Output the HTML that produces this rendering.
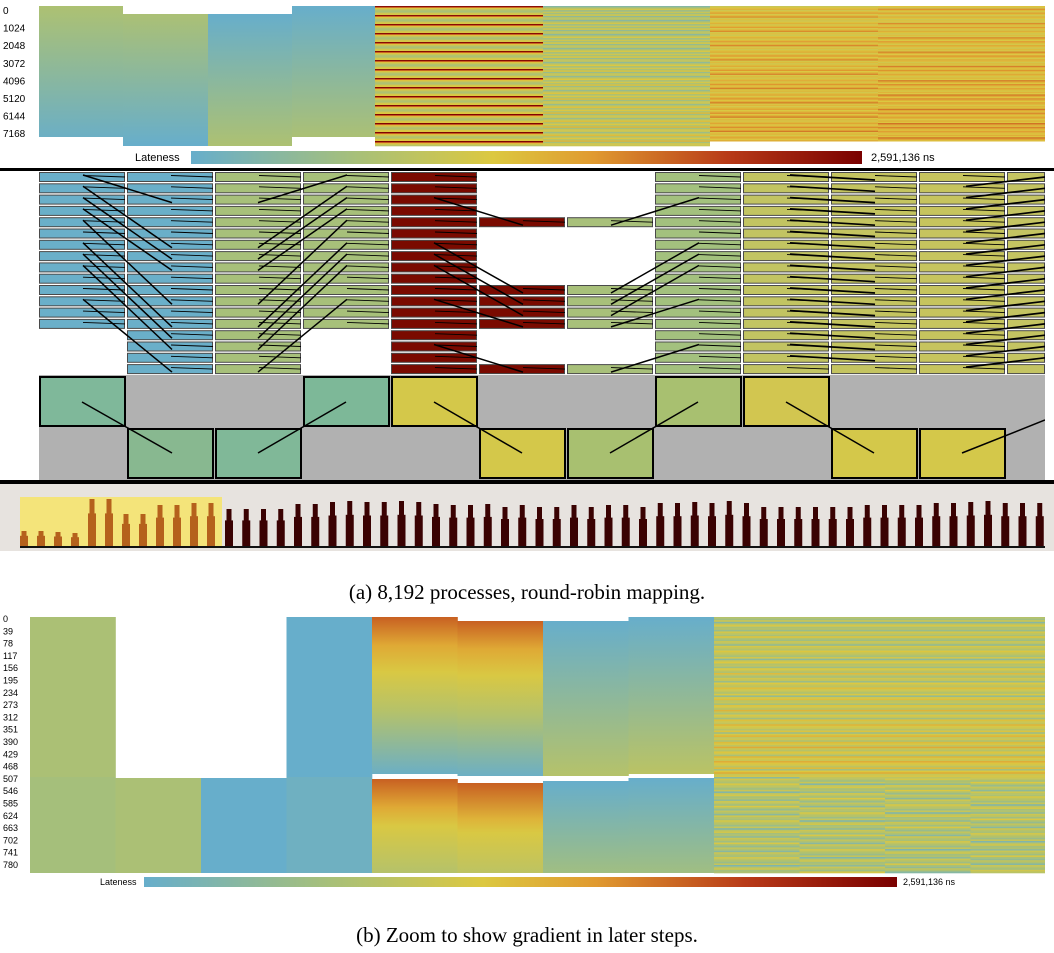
<!DOCTYPE html>
<html><head><meta charset="utf-8">
<style>
html,body{margin:0;padding:0;background:#fff;width:1054px;height:953px;overflow:hidden}
svg{display:block}
text{font-family:"Liberation Sans",sans-serif}
.cap{font-family:"Liberation Serif",serif;font-size:21px}
</style></head>
<body>
<svg id="s" width="1054" height="953" viewBox="0 0 1054 953" xmlns="http://www.w3.org/2000/svg">
<defs>
<linearGradient id="cmap" x1="0" x2="1" y1="0" y2="0">
<stop offset="0" stop-color="#67aecb"/><stop offset="0.25" stop-color="#a8c078"/><stop offset="0.45" stop-color="#dcc840"/><stop offset="0.6" stop-color="#e09a30"/><stop offset="0.8" stop-color="#b83a18"/><stop offset="1" stop-color="#7a0000"/>
</linearGradient>
<clipPath id="midclip"><rect x="0" y="168" width="1045" height="320"/></clipPath>
</defs>
<g id="topHeat"></g>
<g id="midRows" clip-path="url(#midclip)"></g>
<g id="midLines"></g>
<g id="bars"></g>
<g id="botHeat"></g>
<text class="cap" x="527" y="599" text-anchor="middle">(a) 8,192 processes, round-robin mapping.</text>
<text class="cap" x="527" y="942" text-anchor="middle">(b) Zoom to show gradient in later steps.</text>
</svg>
<script>
const NS='http://www.w3.org/2000/svg';
// ---- data arrays ----
const topLabels=['0','1024','2048','3072','4096','5120','6144','7168'];
const botLabels=['0','39','78','117','156','195','234','273','312','351','390','429','468','507','546','585','624','663','702','741','780'];
const stripeA4=[0.95,0.7,0.45,0.35,0.28,0.25,0.3,0.4,0.42];
const stripeA5=[0.12,0.3,0.4,0.18,0.36,0.22,0.42,0.15,0.32,0.28];
const stripeA6=[0.38,0.46,0.52,0.4,0.48,0.58,0.42,0.5,0.62,0.4,0.47];
const stripeB=[0.3,0.22,0.38,0.12,0.34,0.42,0.26,0.3,0.18,0.4,0.33,0.24,0.45,0.28,0.2,0.36,0.3,0.15,0.4,0.32,0.27,0.43,0.35];
const rowCounts=[[0,13],[0,17],[0,17],[0,13],[0,17],null,null,[0,17],[0,17],[0,17],[0,17],[0,17]];
const sparseRows=[4,10,11,12,13,17];
const colFill=['#6aafc9','#6aafc9','#a7c07a','#a7c07a','#7a0a00','#7a0a00','#a8c07a','#a3c17e','#c2c462','#c4c460','#c6c45e','#c4c462'];
const linkSrc01=[0,1,2,3,4,6,7,8,11];
const linkDst01=[2,6,7,8,11,13,14,15,17];
const linkSrc45=[2,6,7,8,11,15];
const linkDst45=[4,10,11,12,13,17];
const upperBoxes=[0,3,4,7,8];
const lowerBoxes=[1,2,5,6,9,10];
const boxColor=['#7fb89a','#88b890','#80b898','#7db898','#d4c84a','#d4c84a','#a8c070','#a8c070','#d2c650','#d4c84a','#d4c84a'];
const orangeH=[16,16,15,14,48,48,33,33,42,42,44,44];
const darkH=[38,38,38,38,43,43,45,46,45,45,46,45,43,42,42,43,40,42,40,40,42,40,42,42,40,44,44,45,44,46,44,40,40,40,40,40,40,42,42,42,42,44,44,45,46,44,44,44];

const stops=[[0,[103,174,203]],[0.25,[168,192,120]],[0.45,[220,200,64]],[0.6,[224,154,48]],[0.8,[184,58,24]],[1,[122,0,0]]];
function cm(v){v=Math.max(0,Math.min(1,v));for(let i=1;i<stops.length;i++){if(v<=stops[i][0]){const a=stops[i-1],b=stops[i],t=(v-a[0])/(b[0]-a[0]);return 'rgb('+a[1].map((c,k)=>Math.round(c+(b[1][k]-c)*t)).join(',')+')';}}return 'rgb(122,0,0)';}
function el(p,tag,attrs){const e=document.createElementNS(NS,tag);for(const k in attrs)e.setAttribute(k,attrs[k]);p.appendChild(e);return e;}
function grad(id,list){const d=document.querySelector('defs');const g=el(d,'linearGradient',{id:id,x1:0,x2:0,y1:0,y2:1});list.forEach(s=>el(g,'stop',{offset:s[0],'stop-color':cm(s[1])}));return 'url(#'+id+')';}

// ---- heatmap a ----
const T=document.getElementById('topHeat');
topLabels.forEach((l,i)=>{const t=el(T,'text',{x:3,y:14+i*17.6,'font-size':10});t.textContent=l;

});
const gA=[[39,123,6,137,grad('g0',[[0,0.27],[1,0.02]])],[123,208,14,146,grad('g1',[[0,0.26],[1,0.0]])],[208,292,14,146,grad('g2',[[0,0.0],[1,0.27]])],[292,375,6,137,grad('g3',[[0,0.0],[1,0.26]])]];
gA.forEach(c=>{const r=el(T,'rect',{x:c[0],y:c[2],width:c[1]-c[0],height:c[3]-c[2],fill:c[4]});

});
function stripes(g,x0,x1,y0,y1,arr,h,bias){let i=0;for(let y=y0;y<y1;y+=h,i++){el(g,'rect',{x:x0,y:y,width:x1-x0,height:h+0.3,fill:cm(arr[i%arr.length]+bias*(y-y0)/(y1-y0))});}}
stripes(T,375,543,6,146,stripeA4,1,0.04);
stripes(T,543,710,6,146,stripeA5,1.4,0.1);
stripes(T,710,878,6,140,stripeA6,1.3,0.05);
stripes(T,878,1045,6,140,stripeA6.slice().reverse(),1.3,0.07);
const lt=el(T,'text',{x:135,y:161,'font-size':11});lt.textContent='Lateness';

const lb=el(T,'rect',{x:191,y:151,width:671,height:13,fill:'url(#cmap)'});

const lm=el(T,'text',{x:871,y:161,'font-size':11});lm.textContent='2,591,136 ns';

el(T,'rect',{x:0,y:168,width:1054,height:3,fill:'#000'});

// ---- middle rows ----
const M=document.getElementById('midRows');
const colX=i=>39+i*88, rowY=r=>172+r*11.3;
const ln=(x1,y1,x2,y2,w)=>{const l=el(M,'line',{x1:x1,y1:y1,x2:x2,y2:y2,stroke:'#000','stroke-width':w||1.5});};
for(let c=0;c<12;c++){
  const rows=rowCounts[c]?Array.from({length:rowCounts[c][1]-rowCounts[c][0]+1},(_,k)=>k):sparseRows;
  const w=Math.min(86,1045-colX(c));
  rows.forEach(r=>{const b=el(M,'rect',{x:colX(c)+0.5,y:rowY(r)+0.5,width:w-1,height:9,fill:colFill[c],stroke:'#4a4a4a','stroke-width':1});
  
  ln(colX(c)+44,rowY(r)+3.5,colX(c)+86,rowY(r)+5,0.9);});
}
linkSrc01.forEach((s,i)=>{ln(colX(0)+44,rowY(s)+3,colX(1)+45,rowY(linkDst01[i])+8);ln(colX(2)+43,rowY(linkDst01[i])+8,colX(3)+44,rowY(s)+3);});
linkSrc45.forEach((s,i)=>{ln(colX(4)+43,rowY(s)+3,colX(5)+44,rowY(linkDst45[i])+8);ln(colX(6)+44,rowY(linkDst45[i])+8,colX(7)+44,rowY(s)+3);});
for(let r=0;r<17;r++){ln(colX(8)+47,rowY(r)+3,colX(9)+44,rowY(r)+8,1.7);ln(colX(10)+47,rowY(r+1)+3,colX(11)+38,rowY(r)+5,1.7);}
// boxes
const bg=el(M,'rect',{x:39,y:375,width:1006,height:105,fill:'#b1b1b1'});

function box(c,up){const b=el(M,'rect',{x:colX(c)+1,y:up?377:429,width:85,height:49,fill:boxColor[c],stroke:'#000','stroke-width':2});
}
upperBoxes.forEach(c=>box(c,true));lowerBoxes.forEach(c=>box(c,false));
ln(82,402,172,453);ln(258,453,346,402);ln(434,402,522,453);ln(610,453,698,402);ln(786,402,874,453);ln(962,453,1045,420);
el(document.getElementById('midLines'),'rect',{x:0,y:480,width:1054,height:4,fill:'#000'});

// ---- bar chart ----
const B=document.getElementById('bars');
el(B,'rect',{x:0,y:484,width:1054,height:67,fill:'#e7e3df'});
const hl=el(B,'rect',{x:20,y:497,width:202,height:50,fill:'#f4e47a'});

const base=547;
function bar(x,h,col){const r=el(B,'rect',{x:x,y:base-h*0.7,width:8,height:h*0.7,fill:col});

el(B,'rect',{x:x+1.5,y:base-h,width:5,height:h,fill:col});}
orangeH.forEach((h,i)=>bar(20+i*17,h,'#b5611c'));
darkH.forEach((h,i)=>bar(225+i*17.25,h,'#3a0202'));
el(B,'rect',{x:20,y:546,width:1025,height:2,fill:'#111'});

// ---- heatmap b ----
const H=document.getElementById('botHeat');
botLabels.forEach((l,i)=>{const t=el(H,'text',{x:3,y:622+i*12.3,'font-size':9});t.textContent=l;
});
const cx=i=>30+i*85.5;
function hc(i,y0,y1,fill){const r=el(H,'rect',{x:cx(i),y:y0,width:85.8,height:y1-y0,fill:fill});
}
hc(0,617,777,cm(0.26));hc(0,777,873,cm(0.24));hc(1,778,873,cm(0.26));hc(2,778,873,cm(0.0));
hc(3,617,777,cm(0.0));hc(3,777,873,cm(0.03));
const gRed=[[0,0.72],[0.18,0.55],[0.35,0.44],[0.6,0.3],[1,0.02]];
hc(4,617,774,grad('b4a',gRed));hc(4,779,873,grad('b4b',[[0,0.72],[0.3,0.55],[0.5,0.44],[1,0.3]]));
hc(5,621,776,grad('b5a',gRed));hc(5,783,873,grad('b5b',[[0,0.72],[0.4,0.52],[0.55,0.44],[1,0.33]]));
hc(6,621,776,grad('b6a',[[0,0.0],[1,0.3]]));hc(6,781,873,grad('b6b',[[0,0.0],[1,0.22]]));
hc(7,617,774,grad('b7a',[[0,0.0],[1,0.32]]));hc(7,778,873,grad('b7b',[[0,0.0],[1,0.22]]));
for(let c=8;c<12;c++){const x0=cx(c),x1=c==11?1045:cx(c+1);
 stripes(H,x0,x1,617,777,stripeB.slice(c*3).concat(stripeB.slice(0,c*3)),1.6,0.12);
 stripes(H,x0,x1,777,873,stripeB.slice(c*5%23).concat(stripeB.slice(0,c*5%23)),1.6,-0.03);}
const lt2=el(H,'text',{x:100,y:885,'font-size':9});lt2.textContent='Lateness';

const lb2=el(H,'rect',{x:144,y:877,width:753,height:10,fill:'url(#cmap)'});

const lm2=el(H,'text',{x:903,y:885,'font-size':9});lm2.textContent='2,591,136 ns';

</script>
</body></html>
